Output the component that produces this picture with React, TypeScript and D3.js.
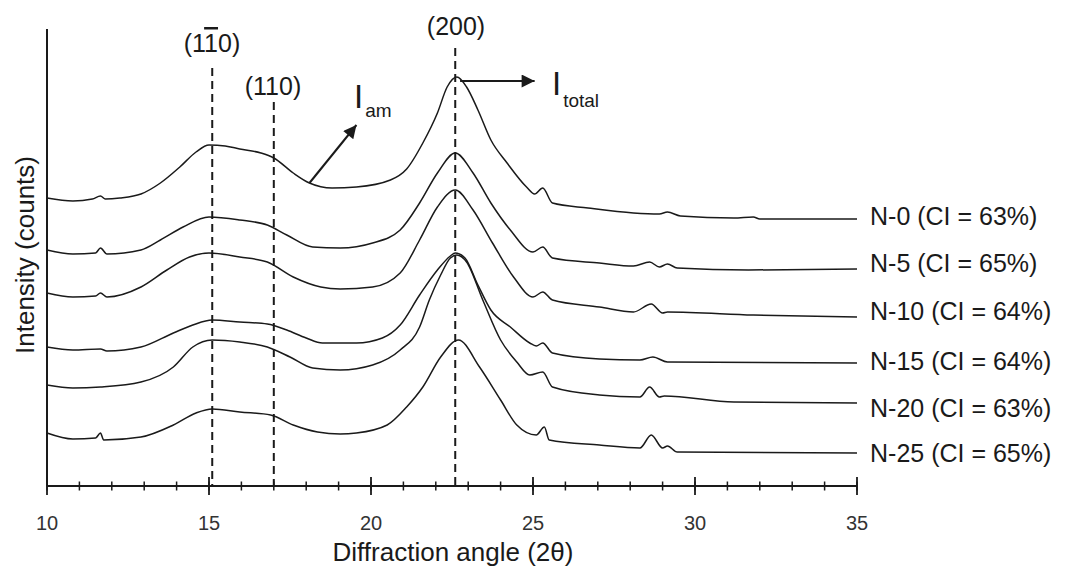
import React from 'react';
import * as d3 from 'd3';

// angle (2θ) vs counts (arbitrary, stacked offsets as drawn)
const N0 = [[10.0,288],[10.8,285],[11.4,287],[11.65,290],[11.8,287],[12.25,288],[12.9,292],[13.5,303],[14.1,319],[14.6,334],[15.0,341],[15.5,340],[15.95,337],[16.6,333],[17.0,328],[17.6,313],[18.1,303],[18.8,298],[19.55,299],[20.6,306],[21.1,317],[21.6,343],[22.05,373],[22.35,399],[22.65,409],[22.95,399],[23.3,376],[23.7,346],[24.2,323],[24.8,299],[25.05,292],[25.3,298],[25.6,283],[26.7,278],[28.1,273],[28.9,272],[29.15,274],[29.55,270],[31.2,268],[31.8,269],[32.0,267],[35.0,267]];
const N5 = [[10.0,236],[10.8,232],[11.5,233],[11.65,238],[11.85,232],[12.9,236],[13.5,246],[14.2,259],[15.0,269],[15.95,266],[16.8,261],[17.4,251],[18.2,239],[19.05,238],[20.05,243],[20.9,256],[21.5,283],[22.05,313],[22.6,333],[23.15,313],[23.7,283],[24.3,256],[25.0,234],[25.3,239],[25.6,228],[27.05,223],[28.1,220],[28.6,224],[28.9,219],[29.15,222],[29.45,218],[31.65,216],[35.0,217]];
const N10 = [[10.0,193],[10.8,189],[11.5,190],[11.65,193],[11.85,189],[12.9,199],[13.7,216],[14.4,229],[15.0,233],[15.95,229],[16.8,224],[17.6,209],[18.45,199],[19.05,197],[20.05,199],[20.9,213],[21.5,246],[22.05,279],[22.6,296],[23.15,276],[23.75,243],[24.4,209],[25.0,189],[25.3,194],[25.6,186],[27.05,179],[28.1,174],[28.65,182],[29.0,173],[29.15,174],[31.8,171],[35.0,169]];
const N15 = [[10.0,139],[10.8,136],[11.65,137],[11.85,135],[12.9,139],[13.9,153],[14.5,161],[15.1,166],[15.95,164],[16.8,162],[17.4,156],[18.0,148],[18.5,143],[19.55,143],[20.35,148],[20.9,161],[21.5,191],[22.05,216],[22.45,230],[22.6,233],[22.9,228],[23.3,201],[23.7,176],[24.3,159],[24.9,143],[25.1,140],[25.3,143],[25.6,133],[27.05,127],[28.3,126],[28.7,129],[29.15,124],[35.0,123]];
const N20 = [[10.0,101],[10.8,98],[11.65,99],[12.9,104],[13.9,119],[14.5,139],[15.1,146],[15.95,144],[16.8,139],[17.5,129],[18.2,118],[19.05,116],[20.05,121],[20.9,136],[21.5,159],[21.8,186],[22.15,211],[22.45,228],[22.65,231],[22.95,224],[23.45,186],[24.0,146],[24.5,124],[24.9,111],[25.3,114],[25.6,99],[27.05,91],[28.3,89],[28.6,99],[28.9,89],[29.05,90],[31.2,84],[35.0,83]];
const N25 = [[10.0,53],[10.8,47],[11.5,48],[11.65,53],[11.75,46],[12.9,49],[13.9,61],[14.6,73],[15.1,77],[15.95,74],[16.9,71],[17.6,61],[18.35,54],[19.05,52],[19.55,53],[20.5,61],[21.1,79],[21.6,99],[22.15,129],[22.7,146],[23.35,119],[24.0,86],[24.5,61],[25.1,51],[25.35,59],[25.5,46],[27.05,41],[28.3,38],[28.65,51],[29.0,38],[29.15,40],[29.45,34],[35.0,33]];

const seriesLabels = ['N-0 (CI = 63%)', 'N-5 (CI = 65%)', 'N-10 (CI = 64%)', 'N-15 (CI = 64%)', 'N-20 (CI = 63%)', 'N-25 (CI = 65%)'];
const majorTicks = [10, 15, 20, 25, 30, 35];
const minorTicks = d3.range(10, 36, 1);

// reflections: angle, top of dashed line (counts)
const peakAngles = [15.1, 17.0, 22.6];
const peakTops = [418, 384, 438];

export default function App() {
  const W = 1069, H = 566;
  const x = d3.scaleLinear().domain([10, 35]).range([47, 857]);
  const y = d3.scaleLinear().domain([0, 457]).range([486, 29]);
  const line = d3.line<number[]>().x(d => x(d[0])).y(d => y(d[1])).curve(d3.curveMonotoneX);
  const all = [N0, N5, N10, N15, N20, N25];
  const labelY = [216, 263, 311, 361, 408, 453];
  const font = 'Liberation Sans, Arial, sans-serif';
  const ink = '#1a1a1a';

  return (
    <svg width={W} height={H} style={{ position: 'absolute', left: 0, top: 0, background: '#fff' }} fontFamily={font}>
      <defs>
        <marker id="ah" viewBox="0 0 10 10" refX="10" refY="5" markerWidth="16" markerHeight="13" markerUnits="userSpaceOnUse" orient="auto">
          <path d="M0,0 L10,5 L0,10 z" fill={ink} />
        </marker>
      </defs>

      {/* dashed reflection lines */}
      {peakAngles.map((a, i) => (
        <line key={i} x1={x(a)} x2={x(a)} y1={y(peakTops[i])} y2={y(0)} stroke={ink} strokeWidth={2} strokeDasharray="8,5" />
      ))}

      {/* curves */}
      {all.map((s, i) => (
        <path key={i} d={line(s) as string} fill="none" stroke={ink} strokeWidth={1.5} strokeLinejoin="round" />
      ))}

      {/* axes */}
      <line x1={x(10)} x2={x(10)} y1={y(457)} y2={y(0)} stroke={ink} strokeWidth={2} />
      <line x1={x(10)} x2={x(35)} y1={y(0)} y2={y(0)} stroke={ink} strokeWidth={2} />
      {minorTicks.map(t => (
        <line key={'m' + t} x1={x(t)} x2={x(t)} y1={y(0) - 4.5} y2={y(0) + 4.5} stroke={ink} strokeWidth={1.5} />
      ))}
      {majorTicks.map(t => (
        <g key={'M' + t}>
          <line x1={x(t)} x2={x(t)} y1={y(0) - 9} y2={y(0) + 9} stroke={ink} strokeWidth={1.8} />
          <text x={x(t)} y={530} textAnchor="middle" fontSize={20} fill="#333">{t}</text>
        </g>
      ))}
      <text x={453} y={561} textAnchor="middle" fontSize={26} fill={ink}>Diffraction angle (2θ)</text>
      <text transform="translate(34,255) rotate(-90)" textAnchor="middle" fontSize={26} fill={ink}>Intensity (counts)</text>

      {/* reflection labels */}
      <text x={212} y={52} textAnchor="middle" fontSize={25} fill={ink}>(1<tspan style={{ textDecoration: 'overline' }}>1</tspan>0)</text>
      <text x={273} y={95} textAnchor="middle" fontSize={25} fill={ink}>(110)</text>
      <text x={456} y={35} textAnchor="middle" fontSize={25} fill={ink}>(200)</text>

      {/* annotations */}
      <line x1={x(18.1)} y1={y(303)} x2={x(19.55)} y2={y(361)} stroke={ink} strokeWidth={2} markerEnd="url(#ah)" />
      <line x1={x(22.75)} y1={y(405)} x2={x(25.05)} y2={y(405)} stroke={ink} strokeWidth={2} markerEnd="url(#ah)" />
      <text x={354} y={108} fontSize={33} fill={ink}>I<tspan fontSize={19} dy={9} dx={2}>am</tspan></text>
      <text x={552} y={95} fontSize={33} fill={ink}>I<tspan fontSize={19} dy={12} dx={2}>total</tspan></text>

      {/* series labels */}
      {seriesLabels.map((l, i) => (
        <text key={l} x={870} y={labelY[i]} dominantBaseline="central" fontSize={25} fill={ink}>{l}</text>
      ))}
    </svg>
  );
}
